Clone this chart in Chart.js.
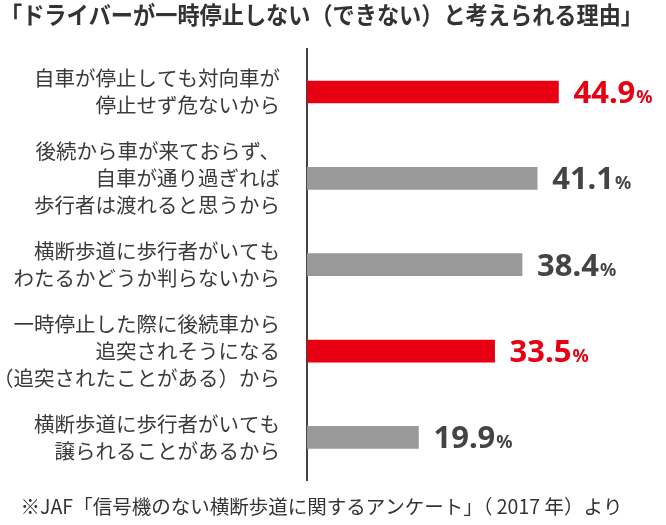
<!DOCTYPE html>
<html>
<head>
<meta charset="utf-8">
<script src="https://cdn.jsdelivr.net/npm/chart.js@4"></script>
<style>
  html, body { margin: 0; padding: 0; background: #fff; }
  #wrap { width: 666px; height: 525px; }
</style>
</head>
<body>
<div id="wrap"><canvas id="chart"></canvas></div>
<script>
const reasons = [
  ["自車が停止しても対向車が", "停止せず危ないから"],
  ["後続から車が来ておらず、", "自車が通り過ぎれば", "歩行者は渡れると思うから"],
  ["横断歩道に歩行者がいても", "わたるかどうか判らないから"],
  ["一時停止した際に後続車から", "追突されそうになる", "（追突されたことがある）から"],
  ["横断歩道に歩行者がいても", "譲られることがあるから"]
];
const percents = [44.9, 41.1, 38.4, 33.5, 19.9];
const titleText = "「ドライバーが一時停止しない（できない）と考えられる理由」";
const sourceText = "※JAF「信号機のない横断歩道に関するアンケート」（ 2017 年）より";

const RED = "#e60012";
const GRAY = "#999999";
const barColors = [RED, GRAY, GRAY, RED, GRAY];
const valueColors = [RED, "#444444", "#444444", RED, "#444444"];

// number + small "%" to the right of each bar
const valueLabels = {
  id: "valueLabels",
  afterDatasetsDraw(chart) {
    const ctx = chart.ctx;
    const meta = chart.getDatasetMeta(0);
    ctx.save();
    ctx.textBaseline = "alphabetic";
    ctx.textAlign = "left";
    meta.data.forEach((bar, i) => {
      const num = percents[i].toFixed(1);
      const x = bar.x + 15;
      const y = bar.y + 11;
      ctx.fillStyle = valueColors[i];
      ctx.font = "bold 31px 'Noto Sans', sans-serif";
      ctx.fillText(num, x, y);
      const w = ctx.measureText(num).width;
      ctx.font = "bold 18px 'Noto Sans', sans-serif";
      ctx.fillText("%", x + w + 1, y);
    });
    ctx.restore();
  }
};

new Chart(document.getElementById("chart"), {
  type: "bar",
  data: {
    labels: reasons,
    datasets: [{
      data: percents,
      backgroundColor: barColors,
      barThickness: 22,
      borderWidth: 0
    }]
  },
  options: {
    indexAxis: "y",
    responsive: true,
    maintainAspectRatio: false,
    animation: false,
    layout: { padding: { left: 0, right: 23, top: 0, bottom: 0 } },
    scales: {
      x: { type: "linear", min: 0, max: 60, display: false },
      y: {
        grid: { display: false, drawTicks: false },
        border: { display: true, color: "#444444", width: 2 },
        ticks: {
          color: "#3a3a3a",
          padding: 27,
          font: { family: "'Noto Sans CJK JP', sans-serif", size: 20.5, lineHeight: "27px" }
        },
        afterFit(scale) {
          scale.width = 307;
          scale.paddingTop = 0;
          scale.paddingBottom = 0;
        }
      }
    },
    plugins: {
      legend: { display: false },
      tooltip: { enabled: false },
      title: {
        display: true,
        text: titleText,
        align: "start",
        color: "#333333",
        font: { family: "'Noto Sans CJK JP', sans-serif", size: 24, weight: "bold", lineHeight: 1.2 },
        padding: { top: 0, bottom: 20 }
      },
      subtitle: {
        display: true,
        position: "bottom",
        text: sourceText,
        align: "center",
        color: "#333333",
        font: { family: "'Noto Sans CJK JP', sans-serif", size: 19.5, lineHeight: 1.2 },
        padding: { top: 14, bottom: 7 }
      }
    }
  },
  plugins: [valueLabels]
});
</script>
</body>
</html>
